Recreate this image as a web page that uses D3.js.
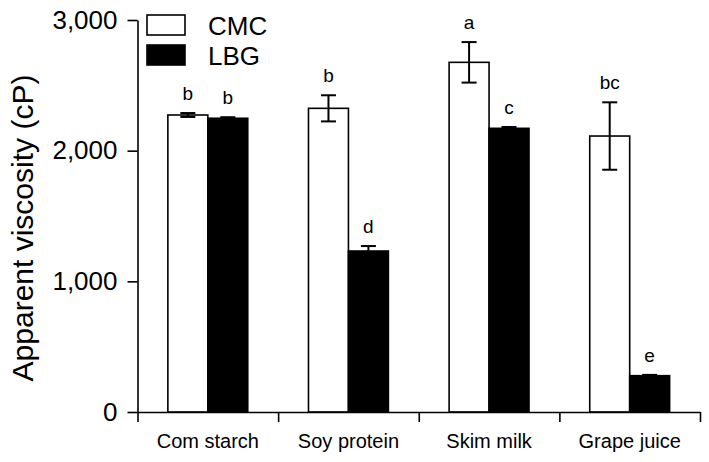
<!DOCTYPE html>
<html>
<head>
<meta charset="utf-8">
<title>Apparent viscosity</title>
<script src="https://d3js.org/d3.v7.min.js"></script>
<style>
  body { margin: 0; background: #fff; }
  svg text { font-family: "Liberation Sans", Arial, Helvetica, sans-serif; fill: #000; }
  .axis path, .axis line { stroke: #000; stroke-width: 1.6px; }
</style>
</head>
<body>
<script>
// data
var categories = ["Com starch", "Soy protein", "Skim milk", "Grape juice"];
var series = ["CMC", "LBG"];
var cmcValues = [2273, 2324, 2676, 2112];
var cmcErrors = [15, 100, 155, 258];
var lbgValues = [2248, 1232, 2171, 278];
var lbgErrors = [8, 38, 10, 6];
var cmcLetters = ["b", "b", "a", "bc"];
var lbgLetters = ["b", "d", "c", "e"];
var yTicks = [0, 1000, 2000, 3000];

var width = 709, height = 462;
var plotLeft = 137.5, plotRight = 700, plotTop = 20, plotBottom = 412;

var rows = [];
categories.forEach(function(c, i) {
  rows.push({cat: c, s: "CMC", v: cmcValues[i], e: cmcErrors[i], l: cmcLetters[i]});
  rows.push({cat: c, s: "LBG", v: lbgValues[i], e: lbgErrors[i], l: lbgLetters[i]});
});

var svg = d3.select("body").append("svg")
  .attr("width", width)
  .attr("height", height);

var x0 = d3.scaleBand().domain(categories).range([plotLeft, plotRight]).padding(0);
var x1 = d3.scaleBand().domain(series).range([0, x0.bandwidth()]).paddingOuter(0.76);
var y = d3.scaleLinear().domain([0, 3000]).range([plotBottom, plotTop]);
var fill = d3.scaleOrdinal().domain(series).range(["#fff", "#000"]);

// bars
svg.append("g").selectAll("rect")
  .data(rows)
  .enter().append("rect")
  .attr("x", function(d) { return x0(d.cat) + x1(d.s); })
  .attr("y", function(d) { return y(d.v); })
  .attr("width", x1.bandwidth())
  .attr("height", function(d) { return y(0) - y(d.v); })
  .attr("fill", function(d) { return fill(d.s); })
  .attr("stroke", "#000")
  .attr("stroke-width", 1.6);

// error bars
var err = svg.append("g").attr("stroke", "#000").attr("stroke-width", 2);
rows.forEach(function(d) {
  var cx = x0(d.cat) + x1(d.s) + x1.bandwidth() / 2;
  err.append("line").attr("x1", cx).attr("x2", cx)
    .attr("y1", y(d.v + d.e)).attr("y2", y(d.v - d.e));
  err.append("line").attr("x1", cx - 7.5).attr("x2", cx + 7.5)
    .attr("y1", y(d.v + d.e)).attr("y2", y(d.v + d.e));
  err.append("line").attr("x1", cx - 7.5).attr("x2", cx + 7.5)
    .attr("y1", y(d.v - d.e)).attr("y2", y(d.v - d.e));
});

// significance letters
svg.append("g").selectAll("text")
  .data(rows)
  .enter().append("text")
  .attr("x", function(d) { return x0(d.cat) + x1(d.s) + x1.bandwidth() / 2; })
  .attr("y", function(d) { return y(d.v + d.e) - 13; })
  .attr("text-anchor", "middle")
  .style("font-size", "19px")
  .text(function(d) { return d.l; });

// y axis
svg.append("g")
  .attr("class", "axis")
  .attr("transform", "translate(" + plotLeft + ",0)")
  .call(d3.axisLeft(y).tickValues(yTicks).tickSize(10).tickSizeOuter(0)
    .tickPadding(10).tickFormat(d3.format(",")))
  .selectAll("text").style("font-size", "26px");

// x axis: ticks between groups
var xb = d3.scaleLinear().domain([0, categories.length]).range([plotLeft, plotRight]);
svg.append("g")
  .attr("class", "axis")
  .attr("transform", "translate(0," + plotBottom + ")")
  .call(d3.axisBottom(xb).ticks(categories.length).tickSize(10).tickSizeOuter(0)
    .tickFormat(""));

// x labels
var xl = svg.append("g")
  .attr("transform", "translate(0," + plotBottom + ")")
  .call(d3.axisBottom(x0).tickSize(0).tickPadding(22));
xl.select(".domain").remove();
xl.selectAll("text").style("font-size", "20px");

// y title
svg.append("text")
  .attr("transform", "translate(33,228) rotate(-90)")
  .attr("text-anchor", "middle")
  .style("font-size", "30px")
  .text("Apparent viscosity (cP)");

// legend
var legend = svg.append("g").attr("transform", "translate(147,15)");
legend.selectAll("rect")
  .data(series)
  .enter().append("rect")
  .attr("x", 0)
  .attr("y", function(d, i) { return i * 30; })
  .attr("width", 38)
  .attr("height", 20)
  .attr("fill", function(d) { return fill(d); })
  .attr("stroke", "#000")
  .attr("stroke-width", 1.6);
legend.selectAll("text")
  .data(series)
  .enter().append("text")
  .attr("x", 61)
  .attr("y", function(d, i) { return i * 30 + 20; })
  .style("font-size", "26px")
  .text(function(d) { return d; });
</script>
</body>
</html>
